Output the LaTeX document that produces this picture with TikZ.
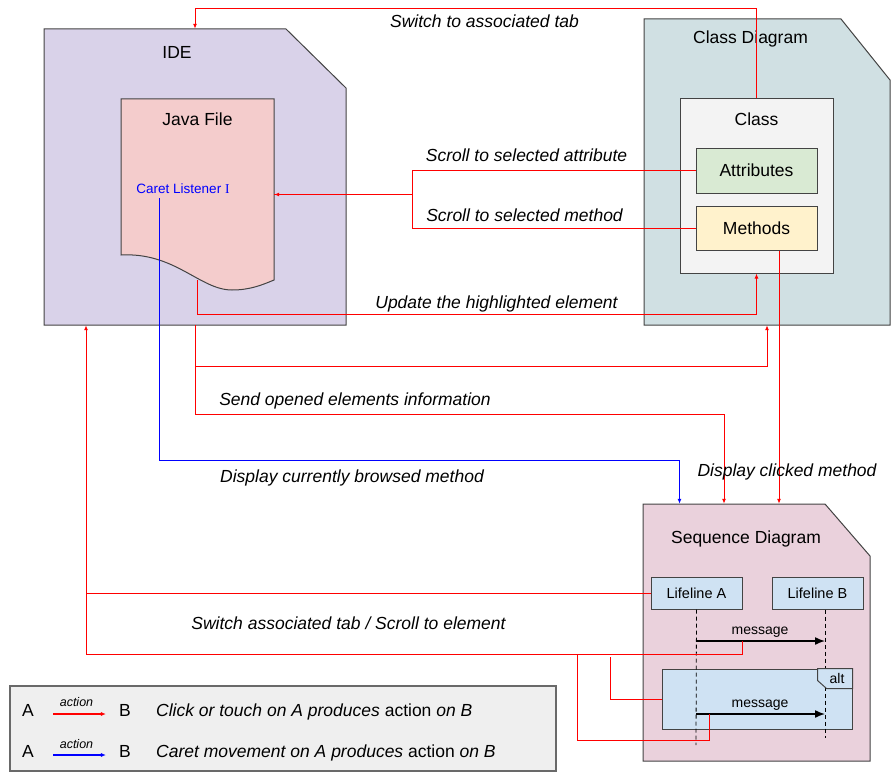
\documentclass[tikz,border=0pt]{standalone}
\usepackage{fontspec}
\setmainfont{Liberation Sans}
\newfontfamily\cursorfont{Liberation Serif}
\usetikzlibrary{arrows.meta}

\definecolor{idefill}{HTML}{D9D2E9}
\definecolor{javafill}{HTML}{F4CCCC}
\definecolor{cdfill}{HTML}{D0E0E3}
\definecolor{clsfill}{HTML}{F3F3F3}
\definecolor{attrfill}{HTML}{D9EAD3}
\definecolor{methfill}{HTML}{FFF2CC}
\definecolor{sdfill}{HTML}{EAD1DC}
\definecolor{lifefill}{HTML}{CFE2F3}
\definecolor{legfill}{HTML}{EFEFEF}
\definecolor{edge}{HTML}{434343}
\definecolor{clickred}{HTML}{FF0000}
\definecolor{caretblue}{HTML}{0000FF}

\begin{document}
\begin{tikzpicture}[x=1pt, y=-1pt]
        \tikzstyle{proc} = [rectangle, draw=edge, line width=1pt, inner sep=0pt, font=\fontsize{17.5}{21}\selectfont]
        \tikzstyle{frame} = [rectangle, inner sep=0pt]
        \tikzstyle{panel} = [draw=edge, line width=1pt]
        \tikzstyle{title} = [anchor=base, inner sep=0pt, font=\fontsize{17.5}{21}\selectfont]
        \tikzstyle{lbl} = [anchor=base, inner sep=0pt, font=\fontsize{17.5}{21}\selectfont\itshape]
        \tikzstyle{small} = [anchor=base, inner sep=0pt, font=\fontsize{14}{16}\selectfont]
        \tikzstyle{arrow} = [clickred, line width=1pt, -{Latex[length=5pt,width=4pt]}]
        \tikzstyle{line} = [clickred, line width=1pt]
        \tikzstyle{carrow} = [caretblue, line width=1pt, -{Latex[length=5pt,width=4pt]}]
        \tikzstyle{msg} = [black, line width=1.5pt, -{Latex[length=10pt,width=8pt]}]
        \tikzstyle{life} = [black, line width=0.8pt, dash pattern=on 4pt off 3pt]
        \useasboundingbox (0,0) rectangle (891,773);

        % IDE with the java file
        \draw[panel, fill=idefill] (44,29) -- (286,29) -- (346,88) -- (346,325) -- (44,325) -- cycle;
        \node [frame, minimum width=302, minimum height=296] (ide) at (195,177) {};
        \node [title] at (177,59) {IDE};
        \draw[panel, fill=javafill] (121,99) -- (274,99) -- (274,280) .. controls (262,285) and (250,290) .. (232,290)
            .. controls (200,290) and (175,252) .. (121,255) -- cycle;
        \node [frame, minimum width=153, minimum height=191] (java) at (197.5,194.5) {};
        \node [title] at (197.5,126) {Java File};
        \node [small, text=caretblue, font=\fontsize{13.5}{16}\selectfont] (cl) at (183,193) {Caret Listener {\cursorfont I}};
        \coordinate (cl1) at (159,198);
        \coordinate (jb) at (197,280);

        % class diagram
        \draw[panel, fill=cdfill] (644,19) -- (841,19) -- (890,80) -- (890,325) -- (644,325) -- cycle;
        \node [frame, minimum width=246, minimum height=306] (cd) at (767,172) {};
        \node [title] at (750.5,44) {Class Diagram};
        \node [proc, fill=clsfill, minimum width=153, minimum height=174] (cls) at (756.5,186) {};
        \node [title] at (756.5,125) {Class};
        \node [proc, fill=attrfill, minimum width=121, minimum height=45] (attr) at (756.5,170.5) {Attributes};
        \node [proc, fill=methfill, minimum width=121, minimum height=44] (meth) at (756.5,228) {Methods};

        % sequence diagram
        \draw[panel, fill=sdfill] (643,504) -- (825,504) -- (870,556) -- (870,761) -- (643,761) -- cycle;
        \node [frame, minimum width=227, minimum height=257] (sd) at (756.5,632.5) {};
        \node [title] at (746,543) {Sequence Diagram};
        \node [proc, fill=lifefill, minimum width=91, minimum height=32, font=\fontsize{14.5}{17}\selectfont] (la) at (696.5,593) {Lifeline A};
        \node [proc, fill=lifefill, minimum width=91, minimum height=32, font=\fontsize{14.5}{17}\selectfont] (lb) at (817.5,593) {Lifeline B};
        \node [proc, fill=lifefill, minimum width=190, minimum height=60] (alt) at (757,699) {};
        \coordinate (aend) at (696,745);
        \coordinate (bend) at (825,738);
        \draw[life] (la.south) -- (aend);
        \draw[life] ([xshift=7.5pt]lb.south) -- (bend);
        \draw[panel, fill=lifefill] ([xshift=-35pt]alt.north east) -- ++(0,12) -- ++(9,8) -- ([yshift=-20pt]alt.north east) |- cycle;
        \node [small] at (837,683) {alt};
        \coordinate (m1) at (696,641);
        \coordinate (m1b) at (825,641);
        \coordinate (m2) at (696,714);
        \coordinate (m2b) at (825,714);
        \draw[msg] (m1) -- (m1b);
        \draw[msg] (m2) -- (m2b);
        \node [small] at (760,634) {message};
        \node [small] at (760,707) {message};

        % connectors
        \draw[arrow] (cls.north) -- ++(0,-90) -| (ide.north);
        \node [lbl] at (484.5,28) {Switch to associated tab};
        \draw[arrow] (attr.west) -- ++(-283,0) |- (java.east);
        \draw[line] (meth.west) -- ++(-283,0) |- (java.east);
        \node [lbl] at (526.5,161) {Scroll to selected attribute};
        \node [lbl] at (524.5,221) {Scroll to selected method};
        \draw[arrow] (jb) -- ++(0,34) -| (cls.south);
        \node [lbl] at (496.5,308) {Update the highlighted element};
        \draw[arrow] (ide.south) -- ++(0,41) -| (cd.south);
        \draw[arrow] (ide.south) -- ++(0,89) -| ([xshift=-32.5pt]sd.north);
        \node [lbl] at (355,405) {Send opened elements information};
        \draw[carrow] (cl1) -- ++(0,262) -| ([xshift=-77pt]sd.north);
        \node [lbl] at (352,482) {Display currently browsed method};
        \draw[arrow] ([xshift=22.5pt]meth.south) -- ([xshift=22.5pt]meth.south |- sd.north);
        \node [lbl] at (787,476) {Display clicked method};

        % back to the IDE
        \coordinate (sw) at (86,654);
        \coordinate (j1) at (577,654);
        \coordinate (j2) at (610,657);
        \coordinate (m1t) at (742.5,641);
        \coordinate (m2t) at (709,714);
        \draw[line] (la.west) -- (la.west -| sw);
        \draw[line] (m1t) |- (sw);
        \draw[arrow] (sw) -- (sw |- ide.south);
        \draw[line] (m2t) -- ++(0,26) -| (j1);
        \draw[line] (alt.west) -| (j2);
        \node [lbl] at (348.5,629) {Switch associated tab / Scroll to element};

        % legend
        \node [proc, fill=legfill, line width=1.5pt, draw=edge!80, minimum width=546, minimum height=85] (leg) at (283,728.5) {};
        \node [title] (a1) at (28,716) {A};
        \node [title] (b1) at (125,716) {B};
        \node [title] (a2) at (28,757) {A};
        \node [title] (b2) at (125,757) {B};
        \draw[arrow, line width=1.2pt, shorten <=19pt, shorten >=13pt] ([yshift=2pt]a1.base east) -- ([yshift=2pt]b1.base west);
        \draw[carrow, line width=1.2pt, shorten <=19pt, shorten >=13pt] ([yshift=2pt]a2.base east) -- ([yshift=2pt]b2.base west);
        \node [small, font=\fontsize{12.5}{14}\selectfont\itshape] at (76.5,706) {action};
        \node [small, font=\fontsize{12.5}{14}\selectfont\itshape] at (76.5,748) {action};
        \node [title, anchor=base west] at (156,716) {\itshape Click or touch on A produces \upshape action \itshape on B};
        \node [title, anchor=base west] at (156,757) {\itshape Caret movement on A produces \upshape action \itshape on B};
\end{tikzpicture}
\end{document}
